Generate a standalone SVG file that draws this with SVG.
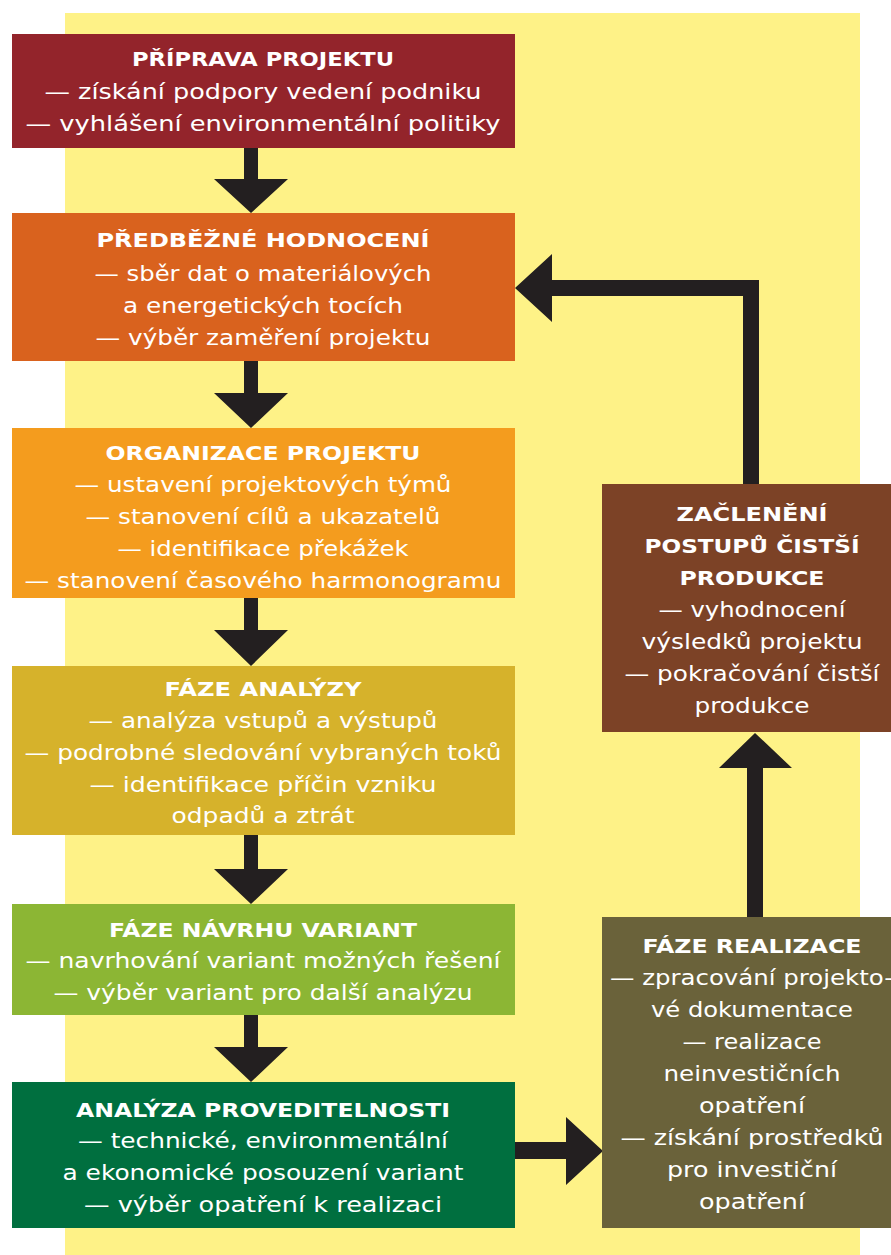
<svg xmlns="http://www.w3.org/2000/svg" width="891" height="1255" viewBox="0 0 891 1255">
<style>
text{fill:#fff;text-anchor:middle;font-family:"DejaVu Sans","Liberation Sans",sans-serif;font-size:22px}
.h{font-weight:bold;font-size:20px}
.a{fill:#231f20}
</style>
<rect width="891" height="1255" fill="#fff"/>
<rect x="65" y="13" width="795" height="1242" fill="#fef287"/>
<g id="connectors">
<polygon class="a" points="244,148 258,148 258,179 288,179 251,213 214,179 244,179"/>
<polygon class="a" points="244,361 258,361 258,393 288,393 251,428 214,393 244,393"/>
<polygon class="a" points="244,598 258,598 258,630 288,630 251,666 214,630 244,630"/>
<polygon class="a" points="244,835 258,835 258,869 288,869 251,904 214,869 244,869"/>
<polygon class="a" points="244,1015 258,1015 258,1047 288,1047 251,1082 214,1047 244,1047"/>
<polygon class="a" points="514,1142 566,1142 566,1117 603,1151 566,1185 566,1159 514,1159"/>
<polygon class="a" points="747,917 747,768 719,768 755,733 792,768 763,768 763,917"/>
<polygon class="a" points="743,484 743,296 552,296 552,322 515,288 552,254 552,280 759,280 759,484"/>
</g>
<g id="n1">
<rect x="12" y="34" width="503" height="114" fill="#93242b"/>
<text class="h" x="263" y="66" textLength="262" lengthAdjust="spacingAndGlyphs">PŘÍPRAVA PROJEKTU</text>
<text x="263" y="99" textLength="437" lengthAdjust="spacingAndGlyphs">— získání podpory vedení podniku</text>
<text x="263" y="131" textLength="475" lengthAdjust="spacingAndGlyphs">— vyhlášení environmentální politiky</text>
</g>
<g id="n2">
<rect x="12" y="213" width="503" height="148" fill="#d9621e"/>
<text class="h" x="263" y="247" textLength="333" lengthAdjust="spacingAndGlyphs">PŘEDBĚŽNÉ HODNOCENÍ</text>
<text x="263" y="281" textLength="337" lengthAdjust="spacingAndGlyphs">— sběr dat o materiálových</text>
<text x="263" y="313" textLength="280" lengthAdjust="spacingAndGlyphs">a energetických tocích</text>
<text x="263" y="345" textLength="335" lengthAdjust="spacingAndGlyphs">— výběr zaměření projektu</text>
</g>
<g id="n3">
<rect x="12" y="428" width="503" height="170" fill="#f49c1e"/>
<text class="h" x="263" y="460" textLength="315" lengthAdjust="spacingAndGlyphs">ORGANIZACE PROJEKTU</text>
<text x="263" y="492" textLength="377" lengthAdjust="spacingAndGlyphs">— ustavení projektových týmů</text>
<text x="263" y="524" textLength="355" lengthAdjust="spacingAndGlyphs">— stanovení cílů a ukazatelů</text>
<text x="263" y="556" textLength="291" lengthAdjust="spacingAndGlyphs">— identifikace překážek</text>
<text x="263" y="588" textLength="477" lengthAdjust="spacingAndGlyphs">— stanovení časového harmonogramu</text>
</g>
<g id="n4">
<rect x="12" y="666" width="503" height="169" fill="#d6b22b"/>
<text class="h" x="263" y="696" textLength="197" lengthAdjust="spacingAndGlyphs">FÁZE ANALÝZY</text>
<text x="263" y="728" textLength="349" lengthAdjust="spacingAndGlyphs">— analýza vstupů a výstupů</text>
<text x="263" y="760" textLength="477" lengthAdjust="spacingAndGlyphs">— podrobné sledování vybraných toků</text>
<text x="263" y="792" textLength="347" lengthAdjust="spacingAndGlyphs">— identifikace příčin vzniku</text>
<text x="263" y="823" textLength="183" lengthAdjust="spacingAndGlyphs">odpadů a ztrát</text>
</g>
<g id="n5">
<rect x="12" y="904" width="503" height="111" fill="#8cb634"/>
<text class="h" x="263" y="937" textLength="308" lengthAdjust="spacingAndGlyphs">FÁZE NÁVRHU VARIANT</text>
<text x="263" y="968" textLength="475" lengthAdjust="spacingAndGlyphs">— navrhování variant možných řešení</text>
<text x="263" y="1000" textLength="419" lengthAdjust="spacingAndGlyphs">— výběr variant pro další analýzu</text>
</g>
<g id="n6">
<rect x="12" y="1082" width="503" height="146" fill="#006f3f"/>
<text class="h" x="263" y="1117" textLength="374" lengthAdjust="spacingAndGlyphs">ANALÝZA PROVEDITELNOSTI</text>
<text x="263" y="1148" textLength="370" lengthAdjust="spacingAndGlyphs">— technické, environmentální</text>
<text x="263" y="1180" textLength="401" lengthAdjust="spacingAndGlyphs">a ekonomické posouzení variant</text>
<text x="263" y="1212" textLength="358" lengthAdjust="spacingAndGlyphs">— výběr opatření k realizaci</text>
</g>
<g id="n7">
<rect x="602" y="484" width="289" height="248" fill="#7c4226"/>
<text class="h" x="752" y="521" textLength="151" lengthAdjust="spacingAndGlyphs">ZAČLENĚNÍ</text>
<text class="h" x="752" y="553" textLength="215" lengthAdjust="spacingAndGlyphs">POSTUPŮ ČISTŠÍ</text>
<text class="h" x="752" y="585" textLength="145" lengthAdjust="spacingAndGlyphs">PRODUKCE</text>
<text x="752" y="617" textLength="187" lengthAdjust="spacingAndGlyphs">— vyhodnocení</text>
<text x="752" y="649" textLength="221" lengthAdjust="spacingAndGlyphs">výsledků projektu</text>
<text x="752" y="681" textLength="255" lengthAdjust="spacingAndGlyphs">— pokračování čistší</text>
<text x="752" y="713" textLength="115" lengthAdjust="spacingAndGlyphs">produkce</text>
</g>
<g id="n8">
<rect x="602" y="917" width="289" height="311" fill="#6a623a"/>
<text class="h" x="752" y="953" textLength="219" lengthAdjust="spacingAndGlyphs">FÁZE REALIZACE</text>
<text x="610" y="985" style="text-anchor:start" textLength="283" lengthAdjust="spacingAndGlyphs">— zpracování projekto-</text>
<text x="752" y="1017" textLength="202" lengthAdjust="spacingAndGlyphs">vé dokumentace</text>
<text x="752" y="1049" textLength="139" lengthAdjust="spacingAndGlyphs">— realizace</text>
<text x="752" y="1081" textLength="177" lengthAdjust="spacingAndGlyphs">neinvestičních</text>
<text x="752" y="1113" textLength="106" lengthAdjust="spacingAndGlyphs">opatření</text>
<text x="752" y="1145" textLength="263" lengthAdjust="spacingAndGlyphs">— získání prostředků</text>
<text x="752" y="1177" textLength="170" lengthAdjust="spacingAndGlyphs">pro investiční</text>
<text x="752" y="1209" textLength="106" lengthAdjust="spacingAndGlyphs">opatření</text>
</g>
</svg>
